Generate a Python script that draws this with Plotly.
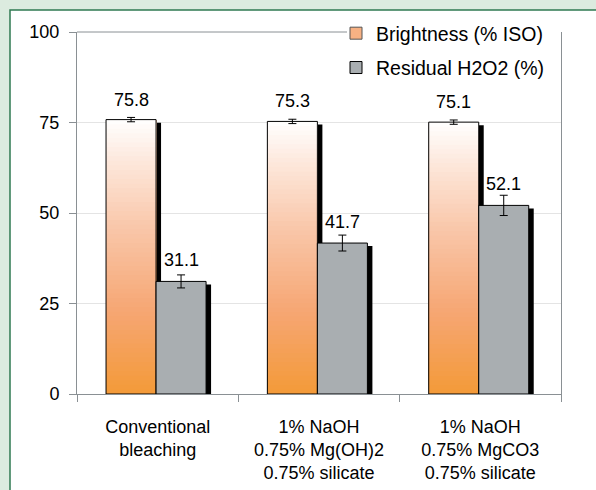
import plotly.graph_objects as go
from plotly.colors import sample_colorscale

# ---- data ----
categories = ["Conventional<br>bleaching",
              "1% NaOH<br>0.75% Mg(OH)2<br>0.75% silicate",
              "1% NaOH<br>0.75% MgCO3<br>0.75% silicate"]
brightness = [75.8, 75.3, 75.1]
brightness_err = [0.6, 0.6, 0.6]
residual = [31.1, 41.7, 52.1]
residual_err = [1.8, 2.2, 2.8]
series_names = ["Brightness (% ISO)", "Residual H2O2 (%)"]
y_ticks = [0, 25, 50, 75, 100]

# ---- style ----
W, H = 596, 490
ML, MR, MT, MB = 77, 35, 32, 96
PW, PH = W - ML - MR, H - MT - MB
FONT = "Liberation Sans, Arial, sans-serif"
BG = "#dcebdf"
BAR_W = 0.31
OFF_B = -0.32
OFF_R = -0.01
SH_DX = 0.031
SH_DY = 0.85
GRAY = "#a9aeb1"
grad_scale = [[0.0, "#f39a38"], [0.3, "#f6a673"], [0.6, "#f9c6a8"],
              [0.85, "#fde8dc"], [1.0, "#ffffff"]]
N = 60

fig = go.Figure()

# shadows
for vals, off in ((brightness, OFF_B), (residual, OFF_R)):
    fig.add_trace(go.Bar(x=categories, y=[v - SH_DY for v in vals], offset=off + SH_DX,
                         width=BAR_W, marker=dict(color="black", line=dict(width=0)),
                         showlegend=False, hoverinfo="skip"))

# gradient brightness bars (layered segments)
cols = sample_colorscale(grad_scale, [(k + 0.5) / N for k in range(N)])
for k in range(N):
    fig.add_trace(go.Bar(x=categories, y=[v * (N - k) / N for v in brightness],
                         base=[v * k / N for v in brightness], offset=OFF_B, width=BAR_W,
                         marker=dict(color=cols[k], line=dict(width=0)),
                         showlegend=False, hoverinfo="skip"))

# brightness outline + error bars
fig.add_trace(go.Bar(x=categories, y=brightness, offset=OFF_B, width=BAR_W,
                     marker=dict(color="rgba(0,0,0,0)", line=dict(color="black", width=1)),
                     error_y=dict(type="data", array=brightness_err, color="black",
                                  thickness=1, width=4),
                     showlegend=False, name=series_names[0]))
# legend entry for brightness
fig.add_trace(go.Bar(x=[categories[0]], y=[None], name=series_names[0],
                     marker=dict(color="#f7b183", line=dict(color="#555555", width=1)),
                     showlegend=True, legendgroup="a", legendrank=1))
# residual bars
fig.add_trace(go.Bar(x=categories, y=residual, offset=OFF_R, width=BAR_W, name=series_names[1],
                     marker=dict(color=GRAY, line=dict(color="black", width=1)),
                     error_y=dict(type="data", array=residual_err, color="black",
                                  thickness=1, width=4),
                     showlegend=True, legendgroup="b", legendrank=2))

# value labels
for i, v in enumerate(brightness):
    fig.add_annotation(x=i + OFF_B + BAR_W / 2, y=v, text=f"{v:.1f}", showarrow=False,
                       yanchor="bottom", yshift=8, font=dict(size=18, color="black", family=FONT))
for i, v in enumerate(residual):
    fig.add_annotation(x=i + OFF_R + BAR_W / 2, y=v, text=f"{v:.1f}", showarrow=False,
                       yanchor="bottom", yshift=9, font=dict(size=18, color="black", family=FONT))

# white panel with green border
def px_x(p):
    return (p - ML) / PW
def px_y(p):
    return (H - MB - p) / PH
axis_col = "#8a9094"
fig.add_shape(type="rect", xref="paper", yref="paper", layer="below",
              x0=px_x(10), x1=px_x(620), y0=px_y(520), y1=px_y(10),
              fillcolor="white", line=dict(color="#2f7a52", width=1.5))
# top frame line, interrupted by the legend
fig.add_shape(type="line", xref="paper", yref="paper", layer="above",
              x0=0, x1=px_x(347), y0=1, y1=1, line=dict(color=axis_col, width=1))

fig.update_layout(
    width=W, height=H,
    margin=dict(l=ML, r=MR, t=MT, b=MB, autoexpand=False),
    paper_bgcolor=BG, plot_bgcolor="rgba(0,0,0,0)",
    barmode="overlay",
    font=dict(family=FONT, size=18, color="black"),
    legend=dict(x=px_x(336), xanchor="left", y=px_y(14), yanchor="top",
                bgcolor="rgba(0,0,0,0)", font=dict(size=19.5, family=FONT),
                tracegroupgap=6, traceorder="grouped"),
    xaxis=dict(type="category", range=[-0.5, 2.5], tickson="boundaries",
               ticks="outside", ticklen=7, tickcolor=axis_col, automargin=False,
               showline=True, linecolor=axis_col, linewidth=1, mirror=False,
               showgrid=False, tickfont=dict(size=18), ticklabelstandoff=16),
    yaxis=dict(range=[0, 100], tickvals=y_ticks, ticks="outside", ticklen=7,
               tickcolor=axis_col, showline=True, linecolor=axis_col, linewidth=1,
               automargin=False,
               mirror=True, showgrid=True, gridcolor="#e4e4e4", zeroline=False,
               tickfont=dict(size=18), ticklabelstandoff=6),
)

fig.write_html("out.html", config={"displayModeBar": False}, post_script=(
    "document.body.style.margin='0';"
    "document.body.style.background='" + BG + "';"
    "document.body.style.overflow='hidden';"
    "document.documentElement.style.overflow='hidden';"))
